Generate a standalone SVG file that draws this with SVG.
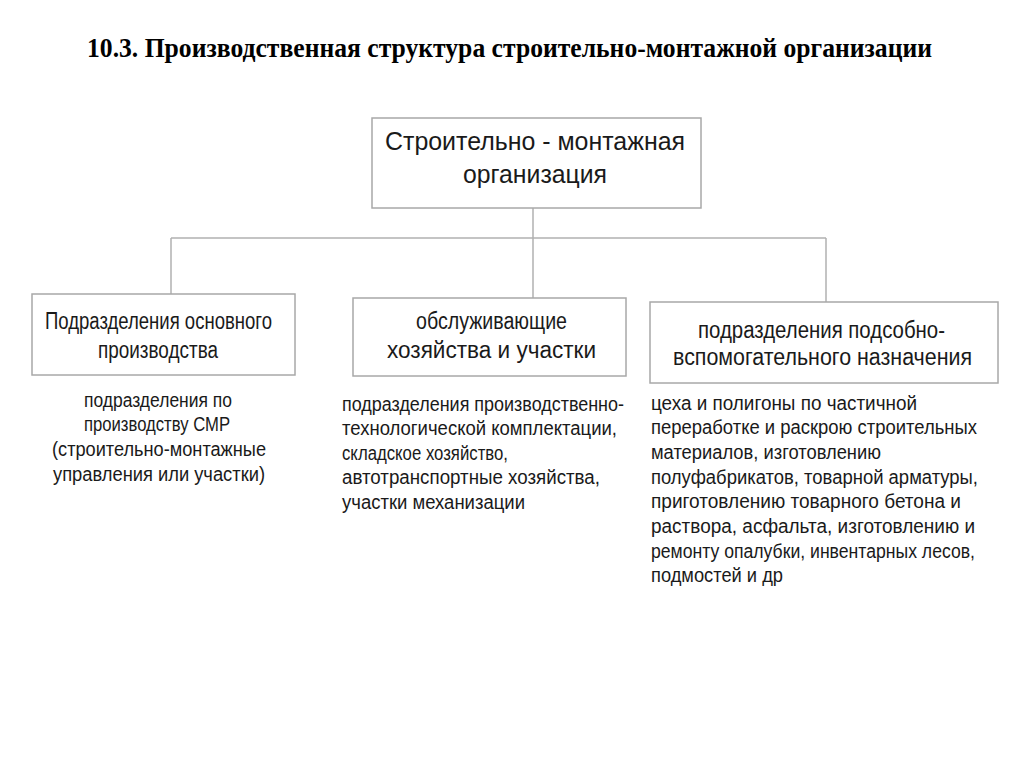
<svg xmlns="http://www.w3.org/2000/svg" width="1024" height="767" viewBox="0 0 1024 767">
<style>
.bg{fill:#ffffff}
.box{fill:#ffffff;stroke:#a8a8a8;stroke-width:1.5}
.con{fill:none;stroke:#b0b0b0;stroke-width:1.5}
.title{font-family:"Liberation Serif","Times New Roman",serif;font-weight:bold;font-size:28px;fill:#000}
.bt{font-family:"Liberation Sans",Arial,sans-serif;font-size:23px;fill:#1a1a1a}
.bt2{font-family:"Liberation Sans",Arial,sans-serif;font-size:25px;fill:#1a1a1a}
.lt{font-family:"Liberation Sans",Arial,sans-serif;font-size:19.5px;fill:#1a1a1a}
</style>
<rect class="bg" x="0" y="0" width="1024" height="767"/>
<text class="title" x="87" y="57" textLength="845" lengthAdjust="spacingAndGlyphs">10.3. Производственная структура строительно-монтажной организации</text>

<g id="connectors">
<line class="con" x1="533" y1="208" x2="533" y2="298"/>
<line class="con" x1="171" y1="238" x2="826" y2="238"/>
<line class="con" x1="171" y1="238" x2="171" y2="294"/>
<line class="con" x1="826" y1="238" x2="826" y2="302"/>
</g>

<g id="root">
<rect class="box" x="372" y="118" width="329" height="90"/>
<text class="bt2" x="385" y="150" textLength="300" lengthAdjust="spacingAndGlyphs">Строительно - монтажная</text>
<text class="bt2" x="463" y="183" textLength="144" lengthAdjust="spacingAndGlyphs">организация</text>
</g>

<g id="main-production">
<rect class="box" x="32" y="294" width="263" height="81"/>
<text class="bt" x="45" y="329" textLength="227" lengthAdjust="spacingAndGlyphs">Подразделения основного</text>
<text class="bt" x="98" y="358" textLength="120" lengthAdjust="spacingAndGlyphs">производства</text>
</g>

<g id="main-production-desc">
<text class="lt" x="84" y="407" textLength="148" lengthAdjust="spacingAndGlyphs">подразделения по</text>
<text class="lt" x="84" y="431" textLength="146" lengthAdjust="spacingAndGlyphs">производству СМР</text>
<text class="lt" x="52" y="456" textLength="214" lengthAdjust="spacingAndGlyphs">(строительно-монтажные</text>
<text class="lt" x="53" y="481" textLength="212" lengthAdjust="spacingAndGlyphs">управления или участки)</text>
</g>

<g id="service">
<rect class="box" x="353" y="298" width="273" height="78"/>
<text class="bt" x="416" y="329" textLength="151" lengthAdjust="spacingAndGlyphs">обслуживающие</text>
<text class="bt" x="387" y="358" textLength="209" lengthAdjust="spacingAndGlyphs">хозяйства и участки</text>
</g>

<g id="service-desc">
<text class="lt" x="342" y="411" textLength="282" lengthAdjust="spacingAndGlyphs">подразделения производственно-</text>
<text class="lt" x="342" y="435" textLength="275" lengthAdjust="spacingAndGlyphs">технологической комплектации,</text>
<text class="lt" x="342" y="460" textLength="166" lengthAdjust="spacingAndGlyphs">складское хозяйство,</text>
<text class="lt" x="342" y="484" textLength="258" lengthAdjust="spacingAndGlyphs">автотранспортные хозяйства,</text>
<text class="lt" x="342" y="509" textLength="183" lengthAdjust="spacingAndGlyphs">участки механизации</text>
</g>

<g id="auxiliary">
<rect class="box" x="650" y="302" width="348" height="81"/>
<text class="bt" x="698" y="338" textLength="247" lengthAdjust="spacingAndGlyphs">подразделения подсобно-</text>
<text class="bt" x="673" y="365" textLength="299" lengthAdjust="spacingAndGlyphs">вспомогательного назначения</text>
</g>

<g id="auxiliary-desc">
<text class="lt" x="651" y="410" textLength="266" lengthAdjust="spacingAndGlyphs">цеха и полигоны по частичной</text>
<text class="lt" x="651" y="434" textLength="326" lengthAdjust="spacingAndGlyphs">переработке и раскрою строительных</text>
<text class="lt" x="651" y="459" textLength="230" lengthAdjust="spacingAndGlyphs">материалов, изготовлению</text>
<text class="lt" x="651" y="484" textLength="327" lengthAdjust="spacingAndGlyphs">полуфабрикатов, товарной арматуры,</text>
<text class="lt" x="651" y="508" textLength="310" lengthAdjust="spacingAndGlyphs">приготовлению товарного бетона и</text>
<text class="lt" x="651" y="533" textLength="324" lengthAdjust="spacingAndGlyphs">раствора, асфальта, изготовлению и</text>
<text class="lt" x="651" y="558" textLength="324" lengthAdjust="spacingAndGlyphs">ремонту опалубки, инвентарных лесов,</text>
<text class="lt" x="651" y="582" textLength="132" lengthAdjust="spacingAndGlyphs">подмостей и др</text>
</g>
</svg>
